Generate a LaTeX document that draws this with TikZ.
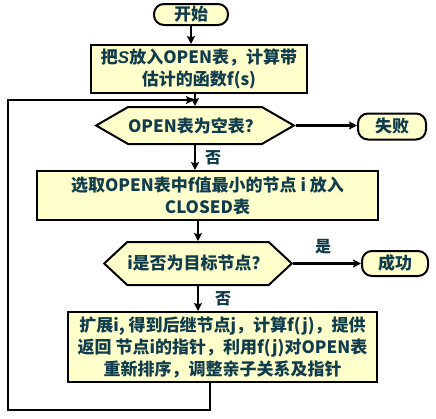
\documentclass[tikz,border=0pt]{standalone}
\usepackage{fontspec}
\setmainfont{Noto Sans CJK SC}
\newfontfamily\latin{Liberation Sans}
\usetikzlibrary{arrows.meta,shapes.symbols}
\definecolor{ink}{RGB}{16,60,75}
\definecolor{paper}{RGB}{255,255,204}
\tikzset{
  box/.style={draw, line width=2pt, fill=paper, text=ink, align=center, inner sep=0pt,
    font=\fontsize{17}{22}\selectfont\bfseries},
  term/.style={box, rounded corners=10pt},
  test/.style={box, shape=signal, signal to=east and west},
  flow/.style={line width=2.4pt, -{Stealth[length=8pt,width=8pt,inset=1.5pt]}},
  tag/.style={text=ink, font=\fontsize{16}{16}\selectfont\bfseries}
}
\begin{document}
\begin{tikzpicture}[x=1pt,y=-1pt]
            \useasboundingbox (0,0) rectangle (436,418);
            %\draw[lightgray] (0,0) grid[step=20] (436,418);
            \node[term, minimum width=74pt, minimum height=21pt] (start) at (191,14.5) {开始};
            \node[box, minimum width=216pt, minimum height=48pt] (init) at (199,69) {把{\latin\itshape S}放入OPEN表，计算带\\估计的函数f(s)};
            \node[test, signal pointer angle=60, minimum width=167pt, minimum height=37pt] (empty) at (195,125.5) {OPEN表为空表？};
            \node[term, minimum width=68pt, minimum height=26pt] (fail) at (392,126.5) {失败};
            \node[box, minimum width=341pt, minimum height=49pt] (pick) at (207.5,195.5) {选取OPEN表中f值最小的节点 i 放入\\CLOSED表};
            \node[test, signal pointer angle=86, minimum width=164pt, minimum height=43pt] (goal) at (198,263.5) {i是否为目标节点？};
            \node[term, minimum width=66pt, minimum height=25pt] (done) at (395,263.5) {成功};
            \node[box, minimum width=309pt, minimum height=70pt] (expand) at (222.5,347) {扩展i, 得到后继节点j，计算f(j)，提供\\返回 节点i的指针，利用f(j)对OPEN表\\重新排序，调整亲子关系及指针};

            \draw[flow] (start) -- (start |- init.north);
            \draw[flow] (init.south -| empty) -- (empty.north);
            \draw[flow] (empty.east) -- (empty.east -| fail.west);
            \draw[flow] (empty.south) -- (empty.south |- pick.north);
            \node[tag] (no1) at (213,158) {否};
            \draw[flow] (pick.south -| goal) -- (goal.north);
            \draw[flow] (goal.east) -- (goal.east -| done.west);
            \node[tag] (yes) at (323,247) {是};
            \draw[flow] (goal.south) -- (goal.south |- expand.north);
            \node[tag] (no2) at (223,299) {否};

            % back to the OPEN test
            \coordinate (low) at (210,410);
            \coordinate (high) at (8,100);
            \draw[flow, shorten >=1pt] (expand.south -| low) -- (low) -| (high) -- (high -| empty);
        \end{tikzpicture}
\end{document}
